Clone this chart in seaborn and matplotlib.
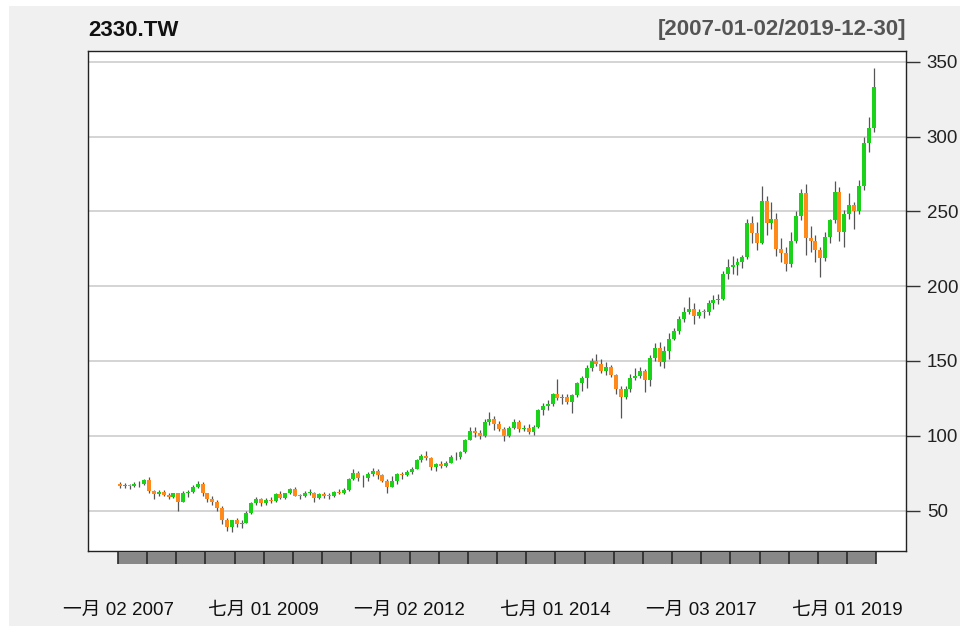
import numpy as np
import pandas as pd
import matplotlib
matplotlib.use("Agg")
import matplotlib.pyplot as plt
import matplotlib.dates as mdates
from matplotlib.patches import Rectangle
import seaborn as sns

# ---------------- data (monthly OHLC) ----------------
ticker = "2330.TW"
period_text = "[2007-01-02/2019-12-30]"
first_day = "2007-01-02"
last_day = "2019-12-30"

opens = [
    67.5, 66.5, 67, 66.5, 68, 67.5, 70.5, 63, 61, 62.5, 60.5, 59,
    61.5, 56, 62, 62.5, 66, 68, 61.5, 58, 55.5, 52, 44, 39,
    43.5, 41, 42, 48.5, 55, 57.5, 55, 57, 56.5, 61, 58.5, 61.5,
    64.5, 60, 59.5, 62, 62, 58.5, 61, 60, 59.5, 62.5, 61.5, 63.5,
    71, 75, 72, 71.5, 74.5, 76.5, 73.5, 70, 66, 70, 74.5, 74,
    75.5, 78, 83.5, 86.5, 85, 79, 81, 80, 82, 86, 85.5, 89,
    97.5, 103.5, 102, 100, 109, 111.5, 108, 104.5, 100, 105, 109, 104.5,
    105.5, 102.5, 106, 117, 120, 121.5, 128, 125, 126, 122.5, 127, 135,
    138.5, 145, 150, 148, 143.5, 146, 140.5, 131, 126, 131, 138.5, 140,
    143, 137, 152, 159, 149, 157, 165, 170, 178, 183, 185, 180,
    183, 182.5, 188.5, 190.5, 191.5, 208, 213, 214, 216, 219.5, 242, 235.5,
    229, 257, 242.5, 245, 225, 222, 215, 230, 247, 262, 232, 230,
    224, 219, 233, 244, 263, 236, 248, 254, 250, 267, 296, 306,
]
highs = [
    69, 68.5, 68, 69, 69.5, 71, 72.5, 64, 63.5, 64, 62, 62,
    62, 63, 64, 67, 69.5, 69, 62, 60, 57, 53, 45, 44,
    45, 44, 50, 56, 59, 58.5, 58.5, 59, 62, 63, 62, 65,
    66, 61, 63, 64.5, 62.5, 62, 62.5, 62, 63, 64.5, 65, 71.5,
    78, 76.5, 73.5, 76, 78.5, 77.5, 74.5, 71, 73, 75, 76, 77,
    79, 84.5, 88, 90, 86, 82, 83, 83, 87, 89, 90, 98,
    106, 106, 104, 111, 116, 113, 110, 106, 106.5, 111, 110.5, 107,
    108, 107, 118, 122, 124, 128.5, 138, 128, 128, 128, 136, 140,
    147, 152, 155, 151, 149, 147, 141, 133, 133, 141, 145, 146,
    144.5, 154, 162, 163, 160, 169, 172, 180, 186, 193, 189, 185,
    185, 191, 194, 195, 210, 218, 220, 219, 221, 245, 247, 243,
    267, 260, 256, 249, 232, 226, 236, 250, 265, 268, 240, 234,
    226, 236, 245, 270, 266, 251, 262, 256, 271, 300, 313, 346,
]
lows = [
    65, 65, 64.5, 65.5, 66, 67, 62, 58, 60, 59.5, 58, 58.5,
    50, 55.5, 59, 61.5, 65, 60, 56, 54, 50, 41, 36.5, 35.5,
    39, 38.5, 41.5, 48, 53.5, 53, 53.5, 55, 56, 57.5, 58, 61,
    59.5, 57.5, 59, 60.5, 56, 57.5, 58.5, 58, 59, 61, 61, 63,
    70.5, 69.5, 66, 70, 73, 71, 69, 62, 65.5, 68, 71, 73,
    74.5, 77.5, 82.5, 84, 77, 76.5, 78.5, 79, 81.5, 84, 84.5, 88.5,
    97, 99.5, 98, 99.5, 107, 104, 103, 96.5, 99, 104.5, 102.5, 103,
    101, 100.5, 105.5, 114, 117, 120, 124, 121, 121.5, 115.5, 126, 130,
    132, 143, 146.5, 142, 140.5, 139, 128, 112, 124.5, 129, 137, 138.5,
    129.5, 133, 150, 146.5, 145.5, 151, 164, 168, 176, 181.5, 175, 178.5,
    178.5, 181, 185, 188, 190.5, 205, 208, 207.5, 212, 218.5, 229, 224,
    228, 234, 238, 220, 216.5, 210, 213, 229, 244, 221, 223, 216,
    206, 217, 229, 242, 230, 226, 245, 238, 248, 264, 290, 303,
]
closes = [
    66.5, 67, 66.5, 68, 67.5, 70.5, 63, 61, 62.5, 60.5, 59, 61.5,
    56, 62, 62.5, 66, 68, 61.5, 58, 55.5, 52, 44, 39, 43.5,
    41, 42, 48.5, 55, 57.5, 55, 57, 56.5, 61, 58.5, 61.5, 64.5,
    60, 59.5, 62, 62, 58.5, 61, 60, 59.5, 62.5, 61.5, 63.5, 71,
    75, 72, 71.5, 74.5, 76.5, 73.5, 70, 66, 70, 74.5, 74, 75.5,
    78, 83.5, 86.5, 85, 79, 81, 80, 82, 86, 85.5, 89, 97.5,
    103.5, 102, 100, 109, 111.5, 108, 104.5, 100, 105, 109, 104.5, 105.5,
    102.5, 106, 117, 120, 121.5, 128, 125, 126, 122.5, 127, 135, 138.5,
    145, 150, 148, 143.5, 146, 140.5, 131, 126, 131, 138.5, 140, 143,
    137, 152, 159, 149, 157, 165, 170, 178, 183, 185, 180, 183,
    182.5, 188.5, 190.5, 191.5, 208, 213, 214, 216, 219.5, 242, 235.5, 229,
    257, 242.5, 245, 225, 222, 215, 230, 247, 262, 232, 230, 224,
    219, 233, 244, 263, 236, 248, 254, 250, 267, 296, 306, 333,
]
y_ticks = [50, 100, 150, 200, 250, 300, 350]
x_label_dates = ["2007-01-02", "2009-07-01", "2012-01-02",
                 "2014-07-01", "2017-01-03", "2019-07-01"]
x_labels = ["一月 02 2007", "七月 01 2009", "一月 02 2012",
            "七月 01 2014", "一月 03 2017", "七月 01 2019"]

# ---------------- style ----------------
sns.set_style("white")
plt.rcParams["font.family"] = ["Liberation Sans", "Noto Sans CJK SC", "DejaVu Sans"]

UP = "#19D219"
DOWN = "#FF8A1A"
WICK = "#555555"
BG = "#F0F0F0"

W, H = 960, 626
fig = plt.figure(figsize=(W / 100, H / 100), dpi=100, facecolor=BG)
# white margin at top / left of the screenshot
fig.patches.append(Rectangle((0, 1 - 6 / H), 1, 6 / H, transform=fig.transFigure,
                             facecolor="white", edgecolor="none", zorder=-1))
fig.patches.append(Rectangle((0, 0), 9 / W, 1, transform=fig.transFigure,
                             facecolor="white", edgecolor="none", zorder=-1))

L_px, R_px, T_px, B_px = 88, 906, 51, 551
ax = fig.add_axes([L_px / W, 1 - B_px / H, (R_px - L_px) / W, (B_px - T_px) / H])
ax.set_facecolor("white")

df = pd.DataFrame({
    "date": pd.date_range("2007-01-01", periods=len(closes), freq="MS") + pd.Timedelta(days=14),
    "open": opens, "high": highs, "low": lows, "close": closes,
})
x = mdates.date2num(df["date"])
up = df["close"] >= df["open"]
body_lo = np.minimum(df["open"], df["close"])
body_h = np.maximum(np.abs(df["close"] - df["open"]), 0.6)

ax.vlines(x, df["low"], df["high"], color=WICK, lw=0.9, zorder=2)
ax.bar(x, body_h, bottom=body_lo, width=25, color=np.where(up, UP, DOWN),
       linewidth=0, zorder=3)

# x range: first trading day at px 118, last at px 876
d0 = mdates.date2num(pd.Timestamp(first_day))
d1 = mdates.date2num(pd.Timestamp(last_day))
ppd = (876 - 118) / (d1 - d0)
ax.set_xlim(d0 - (118 - L_px) / ppd, d1 + (R_px - 876) / ppd)
ax.set_ylim(23.0, 357.2)

ax.yaxis.tick_right()
ax.set_yticks(y_ticks)
ax.set_yticklabels([str(v) for v in y_ticks])
ax.tick_params(axis="y", direction="out", length=10, width=1, color="#333333",
               labelsize=13.5, labelcolor="#222222", pad=5, right=True, left=False)
ax.set_xticks([])
ax.yaxis.grid(True, color="#D4D4D4", lw=1.4)
ax.set_axisbelow(True)
for s in ax.spines.values():
    s.set_color("#222222")
    s.set_linewidth(1.0)
    s.set_visible(True)

# gray date strip below the plot
sax = fig.add_axes([L_px / W, 1 - 563.5 / H, (R_px - L_px) / W, 11.5 / H])
sax.set_xlim(ax.get_xlim())
sax.set_ylim(0, 1)
sax.patch.set_alpha(0)
for s in sax.spines.values():
    s.set_visible(False)
sax.set_yticks([])
sax.axvspan(d0, d1, color="#888888", lw=0)
bounds = [d0] + [mdates.date2num(pd.Timestamp(f"{y}-{m:02d}-01"))
                 for y in range(2007, 2020) for m in (1, 7) if not (y == 2007 and m == 1)] + [d1]
sax.vlines(bounds, 0, 1, color="#2A2A2A", lw=1.2)
sax.set_xticks(mdates.date2num(pd.to_datetime(x_label_dates)))
sax.set_xticklabels(x_labels)
sax.tick_params(axis="x", length=0, pad=28, labelsize=13.5, labelcolor="#111111")

fig.text(L_px / W, 1 - 30 / H, ticker, ha="left", va="center",
         fontsize=16, fontweight="bold", color="#111111")
fig.text(R_px / W, 1 - 30 / H, period_text, ha="right", va="center",
         fontsize=16, fontweight="bold", color="#555555")

fig.savefig("out.png", dpi=100, facecolor=BG)
